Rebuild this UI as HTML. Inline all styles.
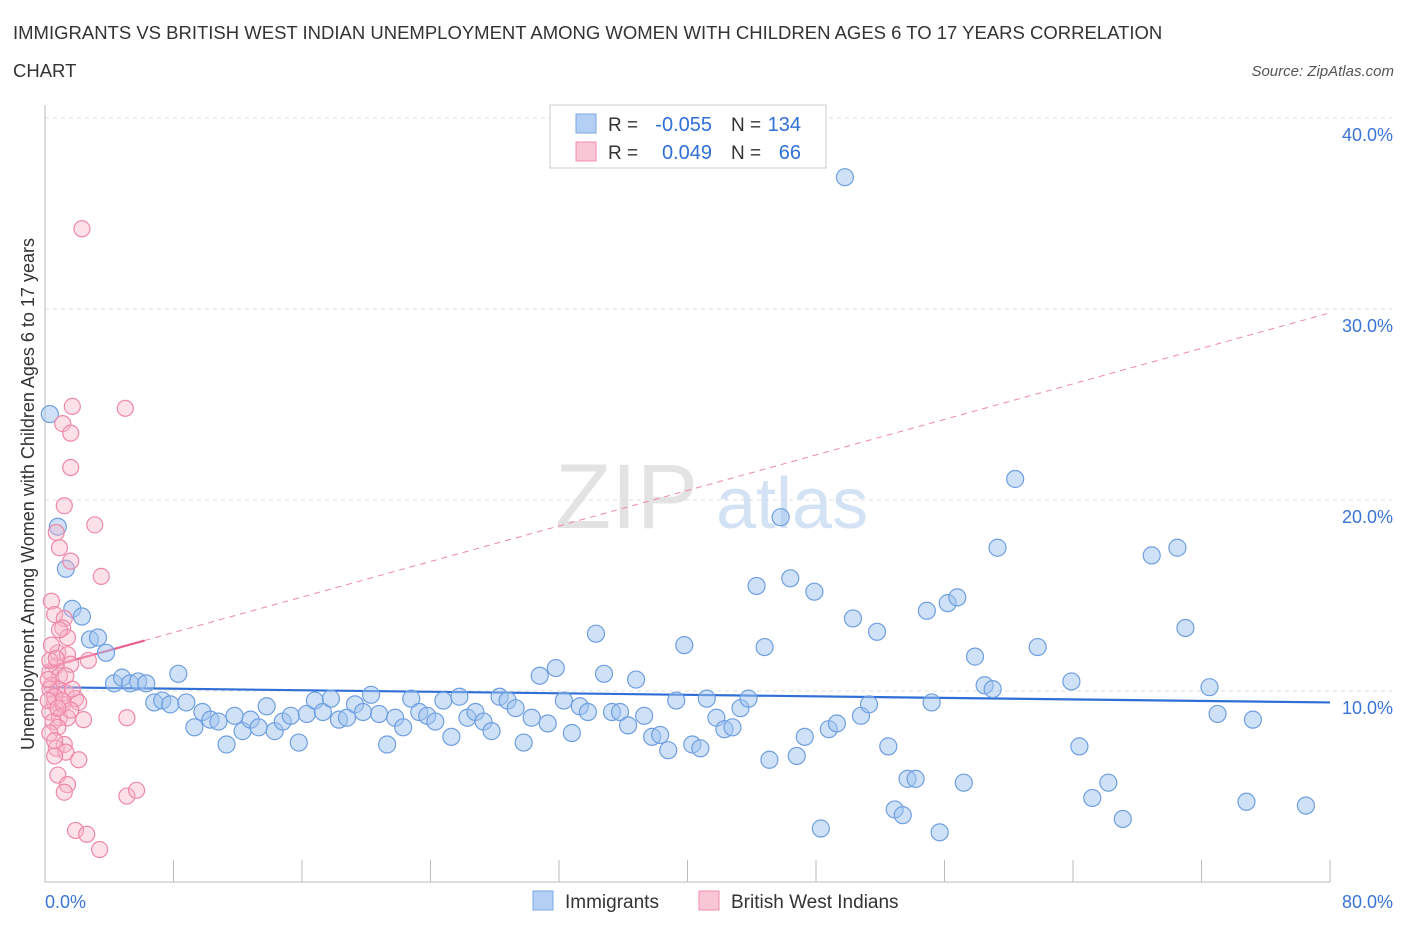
<!DOCTYPE html>
<html><head><meta charset="utf-8"><style>
body{margin:0;background:#fff;font-family:"Liberation Sans",sans-serif;}
svg text{font-family:"Liberation Sans",sans-serif;}
</style></head><body>
<svg id="chart" width="1406" height="930" xmlns="http://www.w3.org/2000/svg">
<text x="13" y="39" font-size="18.5" fill="#333">IMMIGRANTS VS BRITISH WEST INDIAN UNEMPLOYMENT AMONG WOMEN WITH CHILDREN AGES 6 TO 17 YEARS CORRELATION</text>
<text x="13" y="77" font-size="18.5" fill="#333">CHART</text>
<text x="1394" y="76" font-size="15" fill="#555" font-style="italic" text-anchor="end">Source: ZipAtlas.com</text>
<text transform="translate(34,494) rotate(-90)" font-size="18" fill="#333" text-anchor="middle">Unemployment Among Women with Children Ages 6 to 17 years</text>
<g id="grid"></g>
<text x="555" y="528" font-size="92" fill="#ddd" font-family="Liberation Serif" opacity="0.8">ZIP</text>
<text x="716" y="528" font-size="72" fill="#c9dcf3" opacity="0.8">atlas</text>
<g id="trend"></g>
<g id="pts"></g>
<g>
<rect x="550" y="105" width="276" height="63" fill="#fff" stroke="#ccc"/>
<rect x="576" y="114" width="20" height="19" fill="#b3cff3" stroke="#7aa8e6"/>
<rect x="576" y="142" width="20" height="19" fill="#f8c6d4" stroke="#f08cab"/>
<text x="608" y="131" font-size="19" fill="#333">R =</text>
<text x="712" y="131" font-size="20" fill="#2f6fd6" text-anchor="end">-0.055</text>
<text x="731" y="131" font-size="19" fill="#333">N =</text>
<text x="801" y="131" font-size="20" fill="#2f6fd6" text-anchor="end">134</text>
<text x="608" y="159" font-size="19" fill="#333">R =</text>
<text x="712" y="159" font-size="20" fill="#2f6fd6" text-anchor="end">0.049</text>
<text x="731" y="159" font-size="19" fill="#333">N =</text>
<text x="801" y="159" font-size="20" fill="#2f6fd6" text-anchor="end">66</text>
</g>
<g>
<rect x="533" y="891" width="20" height="19" fill="#b3cff3" stroke="#7aa8e6"/>
<text x="565" y="908" font-size="19" fill="#333">Immigrants</text>
<rect x="699" y="891" width="20" height="19" fill="#f8c6d4" stroke="#f08cab"/>
<text x="731" y="908" font-size="19" fill="#333">British West Indians</text>
</g>
</svg>
<script>
const blueX=[0.3,0.8,1.3,1.7,2.3,2.8,3.3,3.8,4.3,4.8,5.3,5.8,6.3,6.8,7.3,7.8,8.3,8.8,9.3,9.8,10.3,10.8,11.3,11.8,12.3,12.8,13.3,13.8,14.3,14.8,15.3,15.8,16.3,16.8,17.3,17.8,18.3,18.8,19.3,19.8,20.3,20.8,21.3,21.8,22.3,22.8,23.3,23.8,24.3,24.8,25.3,25.8,26.3,26.8,27.3,27.8,28.3,28.8,29.3,29.8,30.3,30.8,31.3,31.8,32.3,32.8,33.3,33.8,34.3,34.8,35.3,35.8,36.3,36.8,37.3,37.8,38.3,38.8,39.3,39.8,40.3,40.8,41.2,41.8,42.3,42.8,43.3,43.8,44.3,44.8,45.1,45.8,46.4,46.8,47.3,47.9,48.3,48.8,49.3,49.8,50.3,50.8,51.3,51.8,52.5,52.9,53.4,53.7,54.2,54.9,55.2,55.7,56.2,56.8,57.2,57.9,58.5,59.0,59.3,60.4,61.8,63.9,64.4,65.2,66.2,67.1,68.9,70.5,71.0,72.5,73.0,74.8,75.2,78.5];
const blueY=[24.5,18.6,16.4,14.3,13.9,12.7,12.8,12.0,10.4,10.7,10.4,10.5,10.4,9.4,9.5,9.3,10.9,9.4,8.1,8.9,8.5,8.4,7.2,8.7,7.9,8.5,8.1,9.2,7.9,8.4,8.7,7.3,8.8,9.5,8.9,9.6,8.5,8.6,9.3,8.9,9.8,8.8,7.2,8.6,8.1,9.6,8.9,8.7,8.4,9.5,7.6,9.7,8.6,8.9,8.4,7.9,9.7,9.5,9.1,7.3,8.6,10.8,8.3,11.2,9.5,7.8,9.2,8.9,13.0,10.9,8.9,8.9,8.2,10.6,8.7,7.6,7.7,6.9,9.5,12.4,7.2,7.0,9.6,8.6,8.0,8.1,9.1,9.6,15.5,12.3,6.4,19.1,15.9,6.6,7.6,15.2,2.8,8.0,8.3,36.9,13.8,8.7,9.3,13.1,7.1,3.8,3.5,5.4,5.4,14.2,9.4,2.6,14.6,14.9,5.2,11.8,10.3,10.1,17.5,21.1,12.3,10.5,7.1,4.4,5.2,3.3,17.1,17.5,13.3,10.2,8.8,4.2,8.5,4.0];
const pinkX=[2.3,1.7,5.0,1.1,1.6,1.6,1.2,3.1,0.7,0.9,1.6,3.5,0.4,0.6,1.2,1.1,1.4,2.7,0.8,1.4,1.6,0.7,0.3,0.9,0.4,0.8,1.3,1.9,0.6,1.1,2.1,0.3,0.9,1.4,2.4,5.1,0.5,0.8,0.3,1.2,0.7,1.3,0.6,2.1,0.8,1.4,1.2,5.1,5.7,1.9,2.6,3.4,0.3,0.3,0.6,0.2,0.6,0.9,0.4,1.1,1.6,0.7,1.3,1.7,0.2,0.8];
const pinkY=[34.2,24.9,24.8,24.0,23.5,21.7,19.7,18.7,18.3,17.5,16.8,16.0,14.7,14.0,13.8,13.3,12.8,11.6,12.0,11.9,11.4,11.3,11.0,10.8,10.3,10.1,9.9,9.6,9.4,9.3,9.4,8.9,8.6,8.6,8.5,8.6,8.4,8.1,7.8,7.2,7.0,6.8,6.6,6.4,5.6,5.1,4.7,4.5,4.8,2.7,2.5,1.7,11.6,10.1,9.7,10.6,7.4,13.2,12.4,9.5,9.0,11.7,10.8,10.1,9.5,9.1];
const yTicks=[10,20,30,40];
const yTickLabels=["10.0%","20.0%","30.0%","40.0%"];
const xTicks=[0,8,16,24,32,40,48,56,64,72,80];
const blueTrend=[10.2,9.4];
const pinkTrend=[11.2,29.8];
const pinkSolidEnd=6.2;

const NS="http://www.w3.org/2000/svg";
const X0=45,X1=1330,Y0=882,PX=(X1-X0)/80,PY=19.1;
const sx=v=>X0+v*PX, sy=v=>Y0-v*PY;
function mk(tag,at,parent){const e=document.createElementNS(NS,tag);for(const k in at)e.setAttribute(k,at[k]);parent.appendChild(e);return e;}
const grid=document.getElementById('grid');
yTicks.forEach((t,i)=>{
  const l=mk('line',{x1:X0,x2:1392,y1:sy(t),y2:sy(t),stroke:'#ddd','stroke-dasharray':'4,4'},grid);
  
  
  const tx=mk('text',{x:1393,y:sy(t)+23,'font-size':18,fill:'#3a74d6','text-anchor':'end'},grid);
  tx.textContent=yTickLabels[i];
  
  
});
const ax=mk('line',{x1:X0,x2:X0,y1:105,y2:Y0,stroke:'#bbb'},grid);


const bx=mk('line',{x1:X0,x2:X1,y1:Y0,y2:Y0,stroke:'#bbb'},grid);


xTicks.forEach(t=>{
  const l=mk('line',{x1:sx(t),x2:sx(t),y1:Y0-22,y2:Y0,stroke:'#bbb'},grid);
  
  
});
const xl=mk('text',{x:45,y:908,'font-size':18,fill:'#3a74d6'},grid);xl.textContent='0.0%';


const xr=mk('text',{x:1393,y:908,'font-size':18,fill:'#3a74d6','text-anchor':'end'},grid);xr.textContent='80.0%';



const pts=document.getElementById('pts');
blueX.forEach((x,i)=>{
  const c=mk('circle',{cx:sx(x),cy:sy(blueY[i]),r:8.5,fill:'rgba(160,196,240,0.5)',stroke:'#6f9fe0','stroke-width':1.2},pts);
  
  
});
pinkX.forEach((x,i)=>{
  const c=mk('circle',{cx:sx(x),cy:sy(pinkY[i]),r:8,fill:'rgba(248,180,200,0.4)',stroke:'#ee88a8','stroke-width':1.2},pts);
  
  
});
const tr=document.getElementById('trend');
const bl=mk('line',{x1:sx(0),y1:sy(blueTrend[0]),x2:sx(80),y2:sy(blueTrend[1]),stroke:'#2f6fd6','stroke-width':2.2},tr);


const pAt=x=>pinkTrend[0]+(pinkTrend[1]-pinkTrend[0])*x/80;
const pd=mk('line',{x1:sx(pinkSolidEnd),y1:sy(pAt(pinkSolidEnd)),x2:sx(80),y2:sy(pinkTrend[1]),stroke:'#ee88a8','stroke-width':1,'stroke-dasharray':'6,5'},tr);


const ps=mk('line',{x1:sx(0),y1:sy(pinkTrend[0]),x2:sx(pinkSolidEnd),y2:sy(pAt(pinkSolidEnd)),stroke:'#e8608c','stroke-width':2.2},tr);


</script>
</body></html>
